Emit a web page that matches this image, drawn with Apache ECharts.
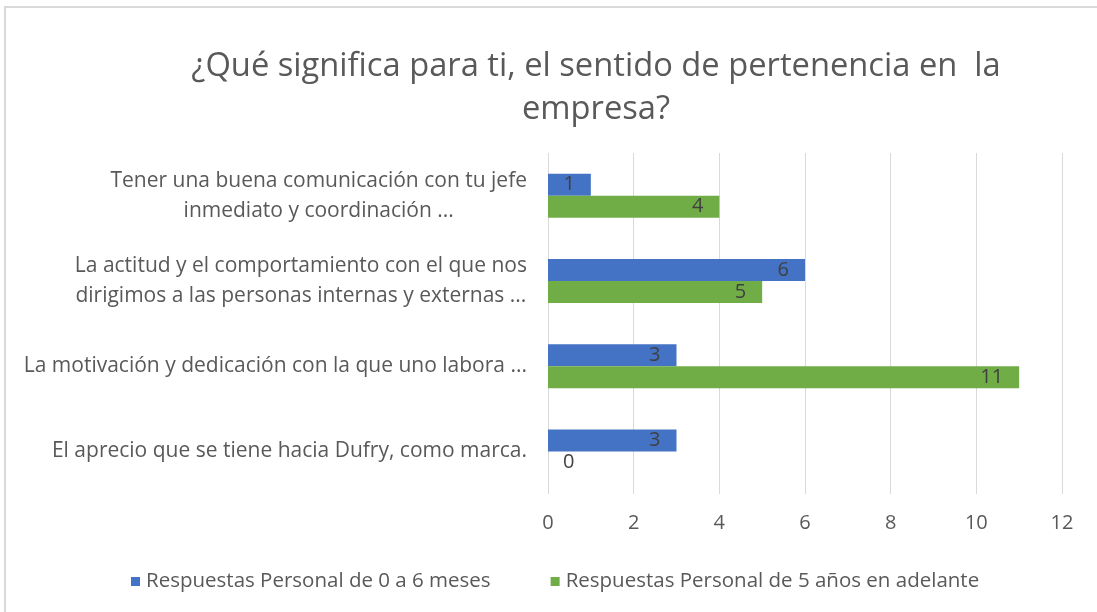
<!DOCTYPE html>
<html>
<head>
<meta charset="utf-8">
<script src="https://cdn.jsdelivr.net/npm/echarts@6/dist/echarts.min.js"></script>
<style>
  html, body { margin: 0; padding: 0; background: #fff; }
  #chart { width: 1097px; height: 612px; }
</style>
</head>
<body>
<div id="chart"></div>
<script>
// categories bottom -> top (category axis starts at the bottom)
const categories = [
  'El aprecio que se tiene hacia Dufry, como marca.',
  'La motivación y dedicación con la que uno labora ...',
  'La actitud y el comportamiento con el que nos\ndirigimos a las personas internas y externas ...',
  'Tener una buena comunicación con tu jefe\ninmediato y coordinación ...'
]
const seriesNames = [
  'Respuestas Personal de 0 a 6 meses',
  'Respuestas Personal de 5 años en adelante'
]
const shortTerm = [3, 3, 6, 1]
const longTerm = [0, 11, 5, 4]
const xTicks = [0, 2, 4, 6, 8, 10, 12]

const COLORS = ['#4472C4', '#70AD47']
const FONT = '"Open Sans"'
const LABEL_SIZE = 21

const chart = echarts.init(document.getElementById('chart'))

// zero-length bars get their label pushed to the right of the axis
const toData = arr =>
  arr.map(v => (v === 0 ? { value: v, label: { position: 'right', distance: 15 } } : v))

const barLabel = {
  show: true,
  position: 'insideRight',
  distance: 16,
  color: '#404040',
  fontFamily: FONT,
  fontSize: 20
}

chart.setOption({
  backgroundColor: '#fff',
  color: COLORS,
  graphic: [
    {
      type: 'rect',
      shape: { x: 5, y: 7, width: 1110, height: 620 },
      style: { fill: 'none', stroke: '#d9d9d9', lineWidth: 2 },
      silent: true
    }
  ],
  title: {
    text: '¿Qué significa para ti, el sentido de pertenencia en  la\nempresa?',
    left: 591,
    top: 40,
    textAlign: 'center',
    textStyle: {
      fontFamily: FONT,
      fontWeight: 'normal',
      fontSize: 32.7,
      lineHeight: 43,
      color: '#595959'
    }
  },
  legend: {
    data: seriesNames,
    left: 126,
    top: 566,
    icon: 'rect',
    itemWidth: 9,
    itemHeight: 9,
    itemGap: 60,
    textStyle: { fontFamily: FONT, fontSize: 20.5, color: '#595959', padding: [0, 0, 0, 1] }
  },
  grid: {
    left: 548,
    right: 35,
    top: 153,
    height: 341,
    containLabel: false
  },
  xAxis: {
    type: 'value',
    min: xTicks[0],
    max: xTicks[xTicks.length - 1],
    interval: 2,
    axisLine: { show: false },
    axisTick: { show: false },
    splitLine: { lineStyle: { color: '#d9d9d9', width: 1 } },
    axisLabel: { margin: 19, fontFamily: FONT, fontSize: 20, color: '#595959' }
  },
  yAxis: {
    type: 'category',
    data: categories,
    axisLine: { show: false },
    axisTick: { show: false },
    axisLabel: {
      margin: 21,
      color: '#595959',
      fontFamily: FONT,
      fontSize: LABEL_SIZE,
      lineHeight: 30,
      formatter: v => v.split('\n').map(s => '{c|' + s + '}').join('\n'),
      rich: {
        c: { align: 'center', fontFamily: FONT, fontSize: LABEL_SIZE, lineHeight: 30, color: '#595959' }
      }
    }
  },
  series: [
    {
      name: seriesNames[0],
      type: 'bar',
      data: toData(shortTerm),
      barWidth: 22,
      barGap: '0%',
      label: barLabel
    },
    {
      name: seriesNames[1],
      type: 'bar',
      data: toData(longTerm),
      barWidth: 22,
      barGap: '0%',
      label: barLabel
    }
  ]
})
</script>
</body>
</html>
